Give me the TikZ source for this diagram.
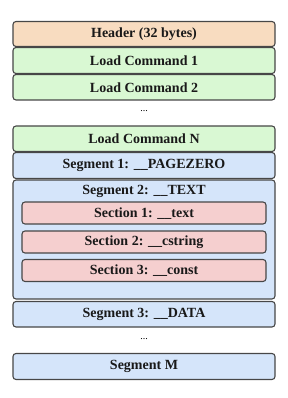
\documentclass[tikz,border=0pt]{standalone}
\usepackage{fontspec}
\setmainfont{Liberation Serif}
\begin{document}
\begin{tikzpicture}[x=1pt,y=-1pt,
  box/.style={draw=black!72,line width=1.1pt,rounded corners=3pt},
  hdr/.style={box,fill=hdrc},
  lc/.style={box,fill=lcc},
  seg/.style={box,fill=segc},
  sec/.style={box,fill=secc},
  lbl/.style={font=\fontsize{14}{16}\selectfont\bfseries,text=black!90,inner sep=0pt},
  dots/.style={font=\fontsize{10}{12}\selectfont,inner sep=0pt}]
\definecolor{hdrc}{HTML}{F8DCC0}
\definecolor{lcc}{HTML}{D9F8D3}
\definecolor{segc}{HTML}{D5E5FA}
\definecolor{secc}{HTML}{F5CFCF}
\useasboundingbox (0,0) rectangle (288,398);
\draw[hdr] (13,21.5) rectangle (275,46.5);
\node[lbl] (h) at (144,34) {Header (32 bytes)};
\draw[lc] (13,47.5) rectangle (275,73.5);
\node[lbl] (lc1) at (144,61) {Load Command 1};
\draw[lc] (13,74.5) rectangle (275,100);
\node[lbl] (lc2) at (144,87.5) {Load Command 2};
\node[dots] (d1) at (144,111) {...};
\draw[lc] (13,126) rectangle (275,151.5);
\node[lbl] (lcn) at (144,139) {Load Command N};
\draw[seg] (13,152.5) rectangle (275,178.5);
\node[lbl] (s1) at (144,165.5) {Segment 1: \_\_PAGEZERO};
\draw[seg] (13,180) rectangle (275,299);
\node[lbl] (s2) at (144,191) {Segment 2: \_\_TEXT};
\draw[sec] (22,202) rectangle (266,224);
\node[lbl] (c1) at (144,213.5) {Section 1: \_\_text};
\draw[sec] (22,231) rectangle (266,253);
\node[lbl] (c2) at (144,242) {Section 2: \_\_cstring};
\draw[sec] (22,259.5) rectangle (266,281.5);
\node[lbl] (c3) at (144,270.5) {Section 3: \_\_const};
\draw[seg] (13,301.5) rectangle (275,327);
\node[lbl] (s3) at (144,314) {Segment 3: \_\_DATA};
\node[dots] (d2) at (144,339) {...};
\draw[seg] (13,353.5) rectangle (275,379.5);
\node[lbl] (sm) at (144,366) {Segment M};
\end{tikzpicture}
\end{document}
